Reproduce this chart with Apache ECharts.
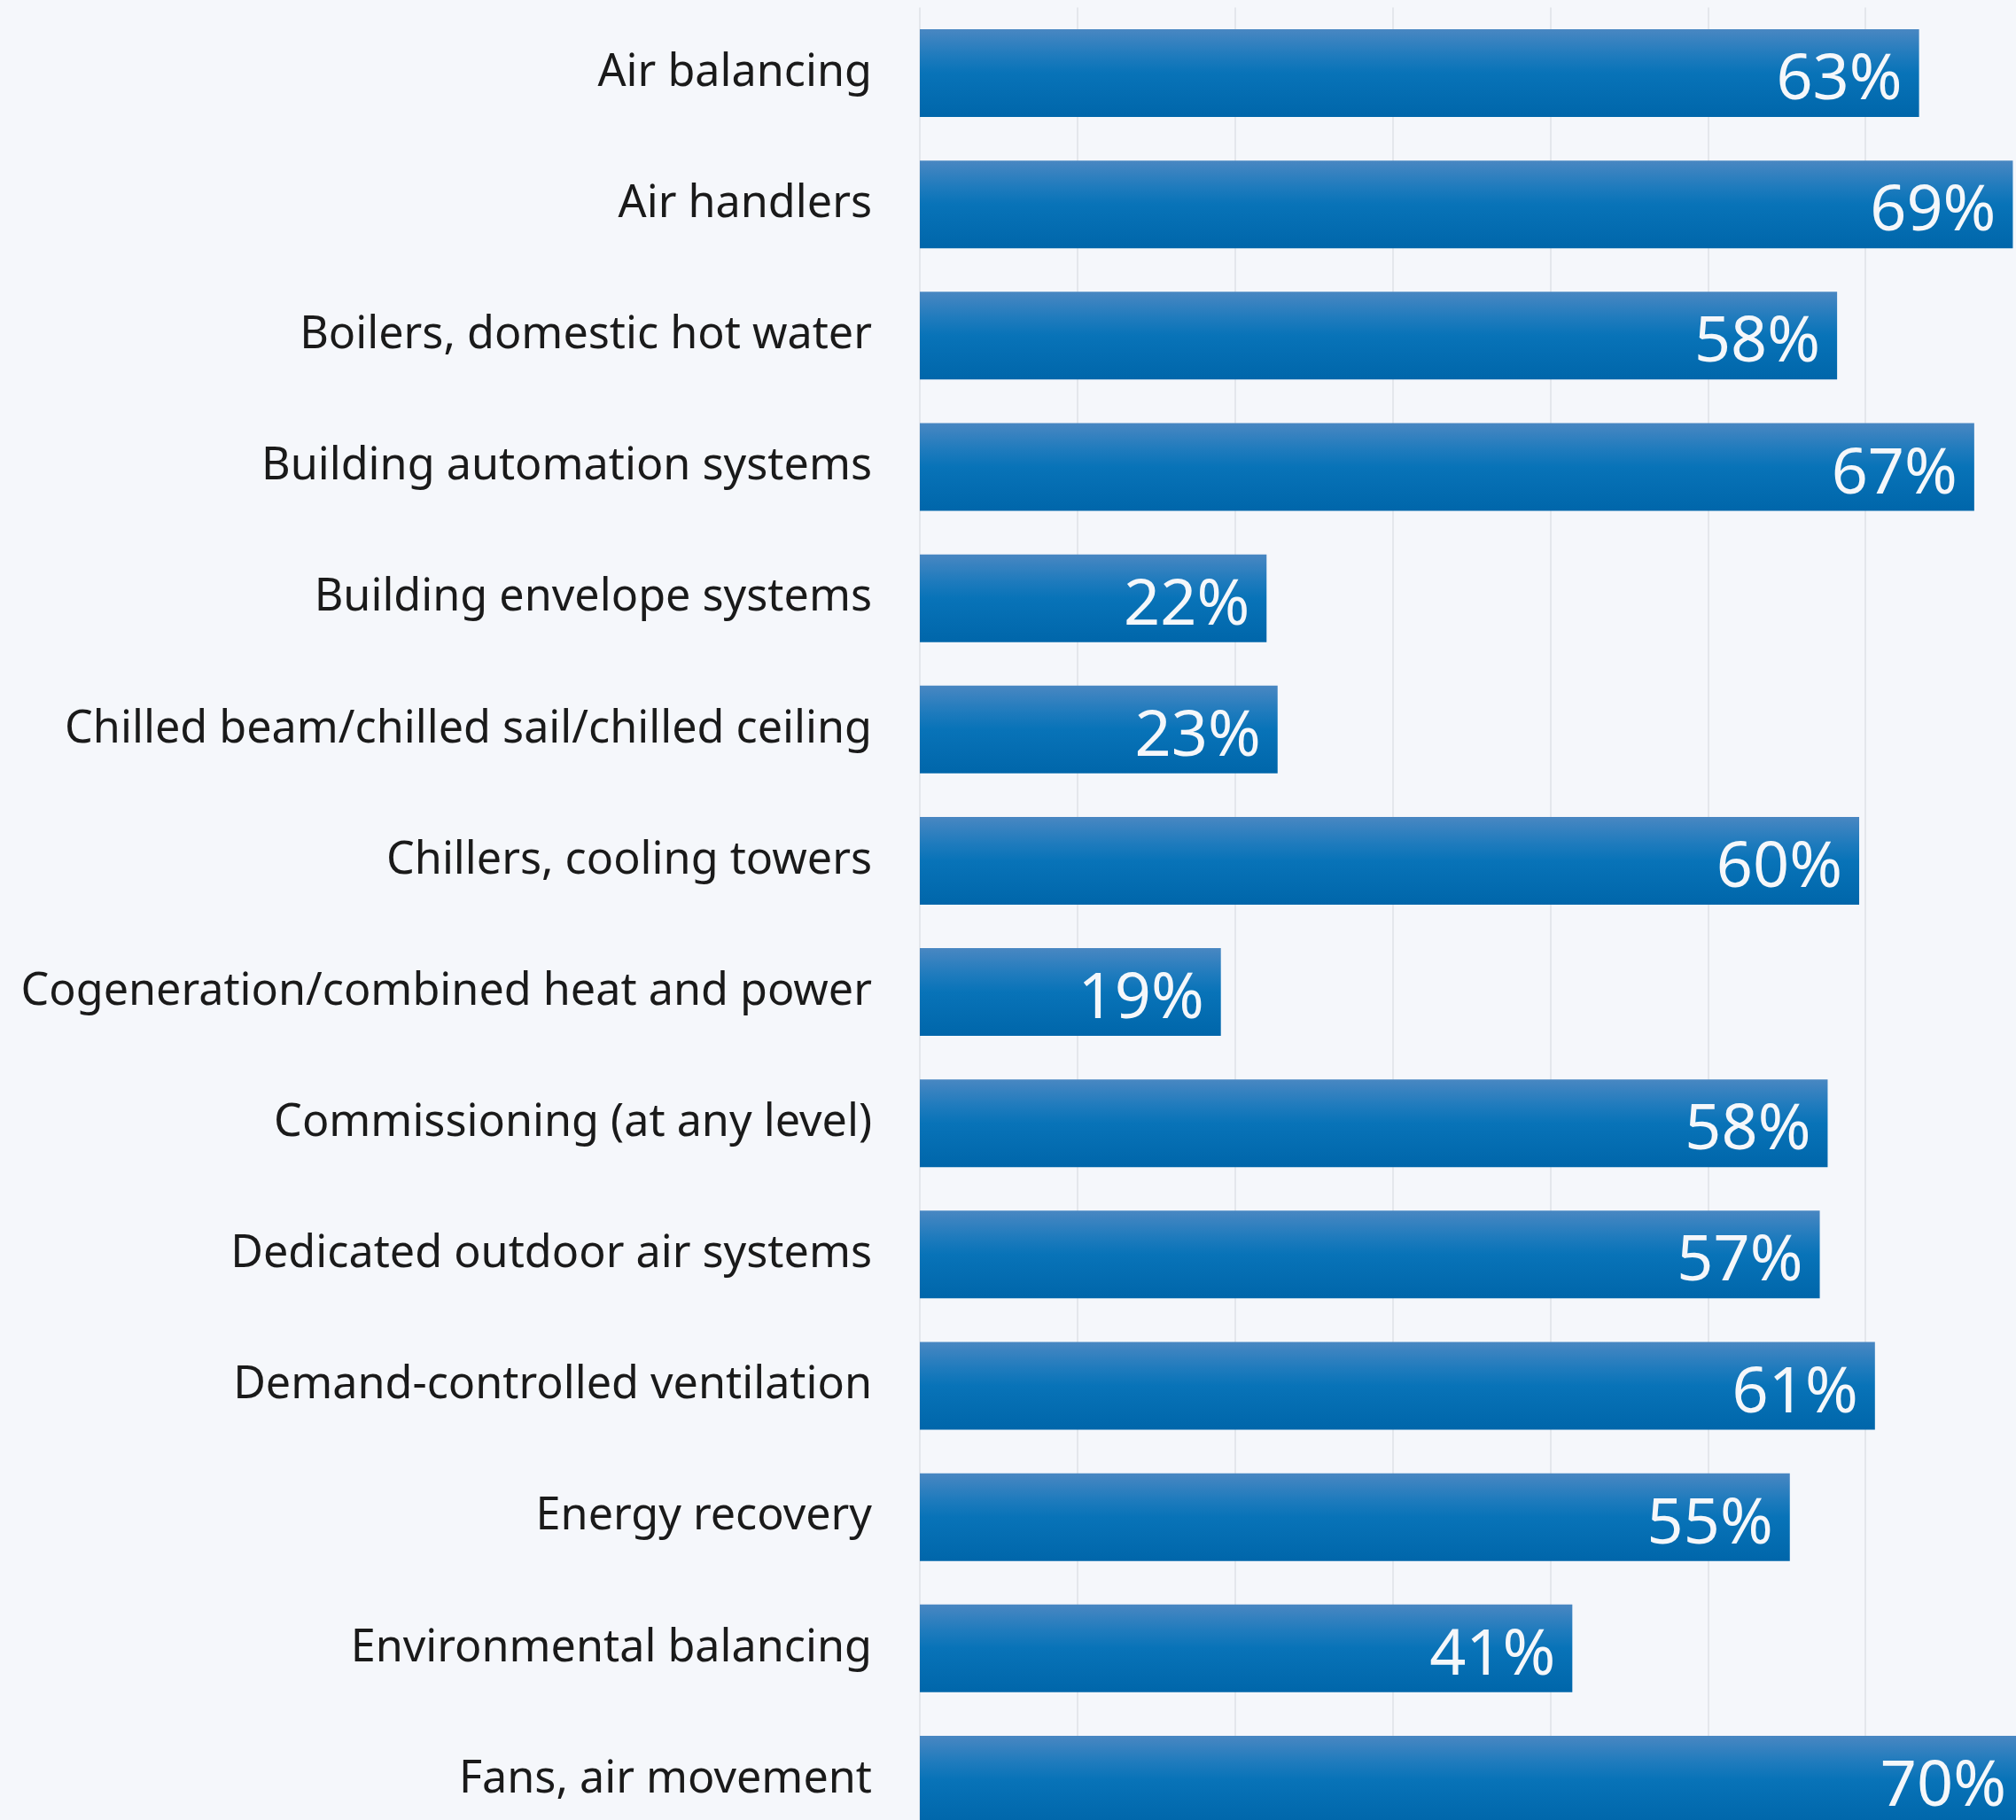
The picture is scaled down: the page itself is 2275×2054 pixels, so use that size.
<!DOCTYPE html>
<html>
<head>
<meta charset="utf-8">
<script src="https://cdn.jsdelivr.net/npm/echarts@6/dist/echarts.min.js"></script>
<style>
    html, body {
        margin: 0;
        padding: 0;
        background: #f5f7fb;
    }
    .charts {
        width: 2275px;
        height: 2054px;
    }
</style>
</head>
<body>
<div class="charts" id="charts"></div>
<script>
// 类别
let categories = [
    'Air balancing',
    'Air handlers',
    'Boilers, domestic hot water',
    'Building automation systems',
    'Building envelope systems',
    'Chilled beam/chilled sail/chilled ceiling',
    'Chillers, cooling towers',
    'Cogeneration/combined heat and power',
    'Commissioning (at any level)',
    'Dedicated outdoor air systems',
    'Demand-controlled ventilation',
    'Energy recovery',
    'Environmental balancing',
    'Fans, air movement'
]
// 百分比
let values = [63.4, 69.35, 58.2, 66.9, 22.0, 22.7, 59.6, 19.1, 57.6, 57.1, 60.6, 55.2, 41.4, 70.0]
let xTicks = [0, 10, 20, 30, 40, 50, 60, 70]

let Mycharts = echarts.init(document.getElementById('charts'))
let option = {
    backgroundColor: '#f5f7fb',
    animation: false,
    grid: {
        top: 8.5,
        left: 1038,
        width: 1245,
        height: 2074,
        outerBoundsMode: 'none',
        containLabel: false
    },
    xAxis: {
        type: 'value',
        min: xTicks[0],
        max: xTicks[xTicks.length - 1],
        interval: xTicks[1] - xTicks[0],
        axisLabel: {
            show: false
        },
        axisTick: {
            show: false
        },
        axisLine: {
            show: false
        },
        splitLine: {
            show: true,
            lineStyle: {
                width: 2,
                color: '#e4e7ec'
            }
        }
    },
    yAxis: {
        type: 'category',
        inverse: true,
        data: categories,
        axisTick: {
            show: false
        },
        axisLine: {
            show: false
        },
        axisLabel: {
            margin: 54,
            padding: [6, 0, 0, 0],
            fontFamily: 'Noto Sans',
            fontSize: 50.3,
            color: '#1a1a1a'
        }
    },
    series: [
        {
            type: 'bar',
            data: values,
            barWidth: 99,
            itemStyle: {
                color: new echarts.graphic.LinearGradient(0, 0, 0, 1, [
                    { offset: 0, color: '#4987c2' },
                    { offset: 0.3, color: '#1f7bbd' },
                    { offset: 0.5, color: '#0873b8' },
                    { offset: 1, color: '#0066aa' }
                ], false)
            },
            label: {
                show: true,
                position: 'insideRight',
                distance: 19,
                offset: [0, 9],
                fontFamily: 'Noto Sans',
                fontSize: 72,
                color: '#f5f7fa',
                formatter: (p) => Math.round(p.value) + '%'
            }
        }
    ]
}
Mycharts.setOption(option)
</script>
</body>
</html>
